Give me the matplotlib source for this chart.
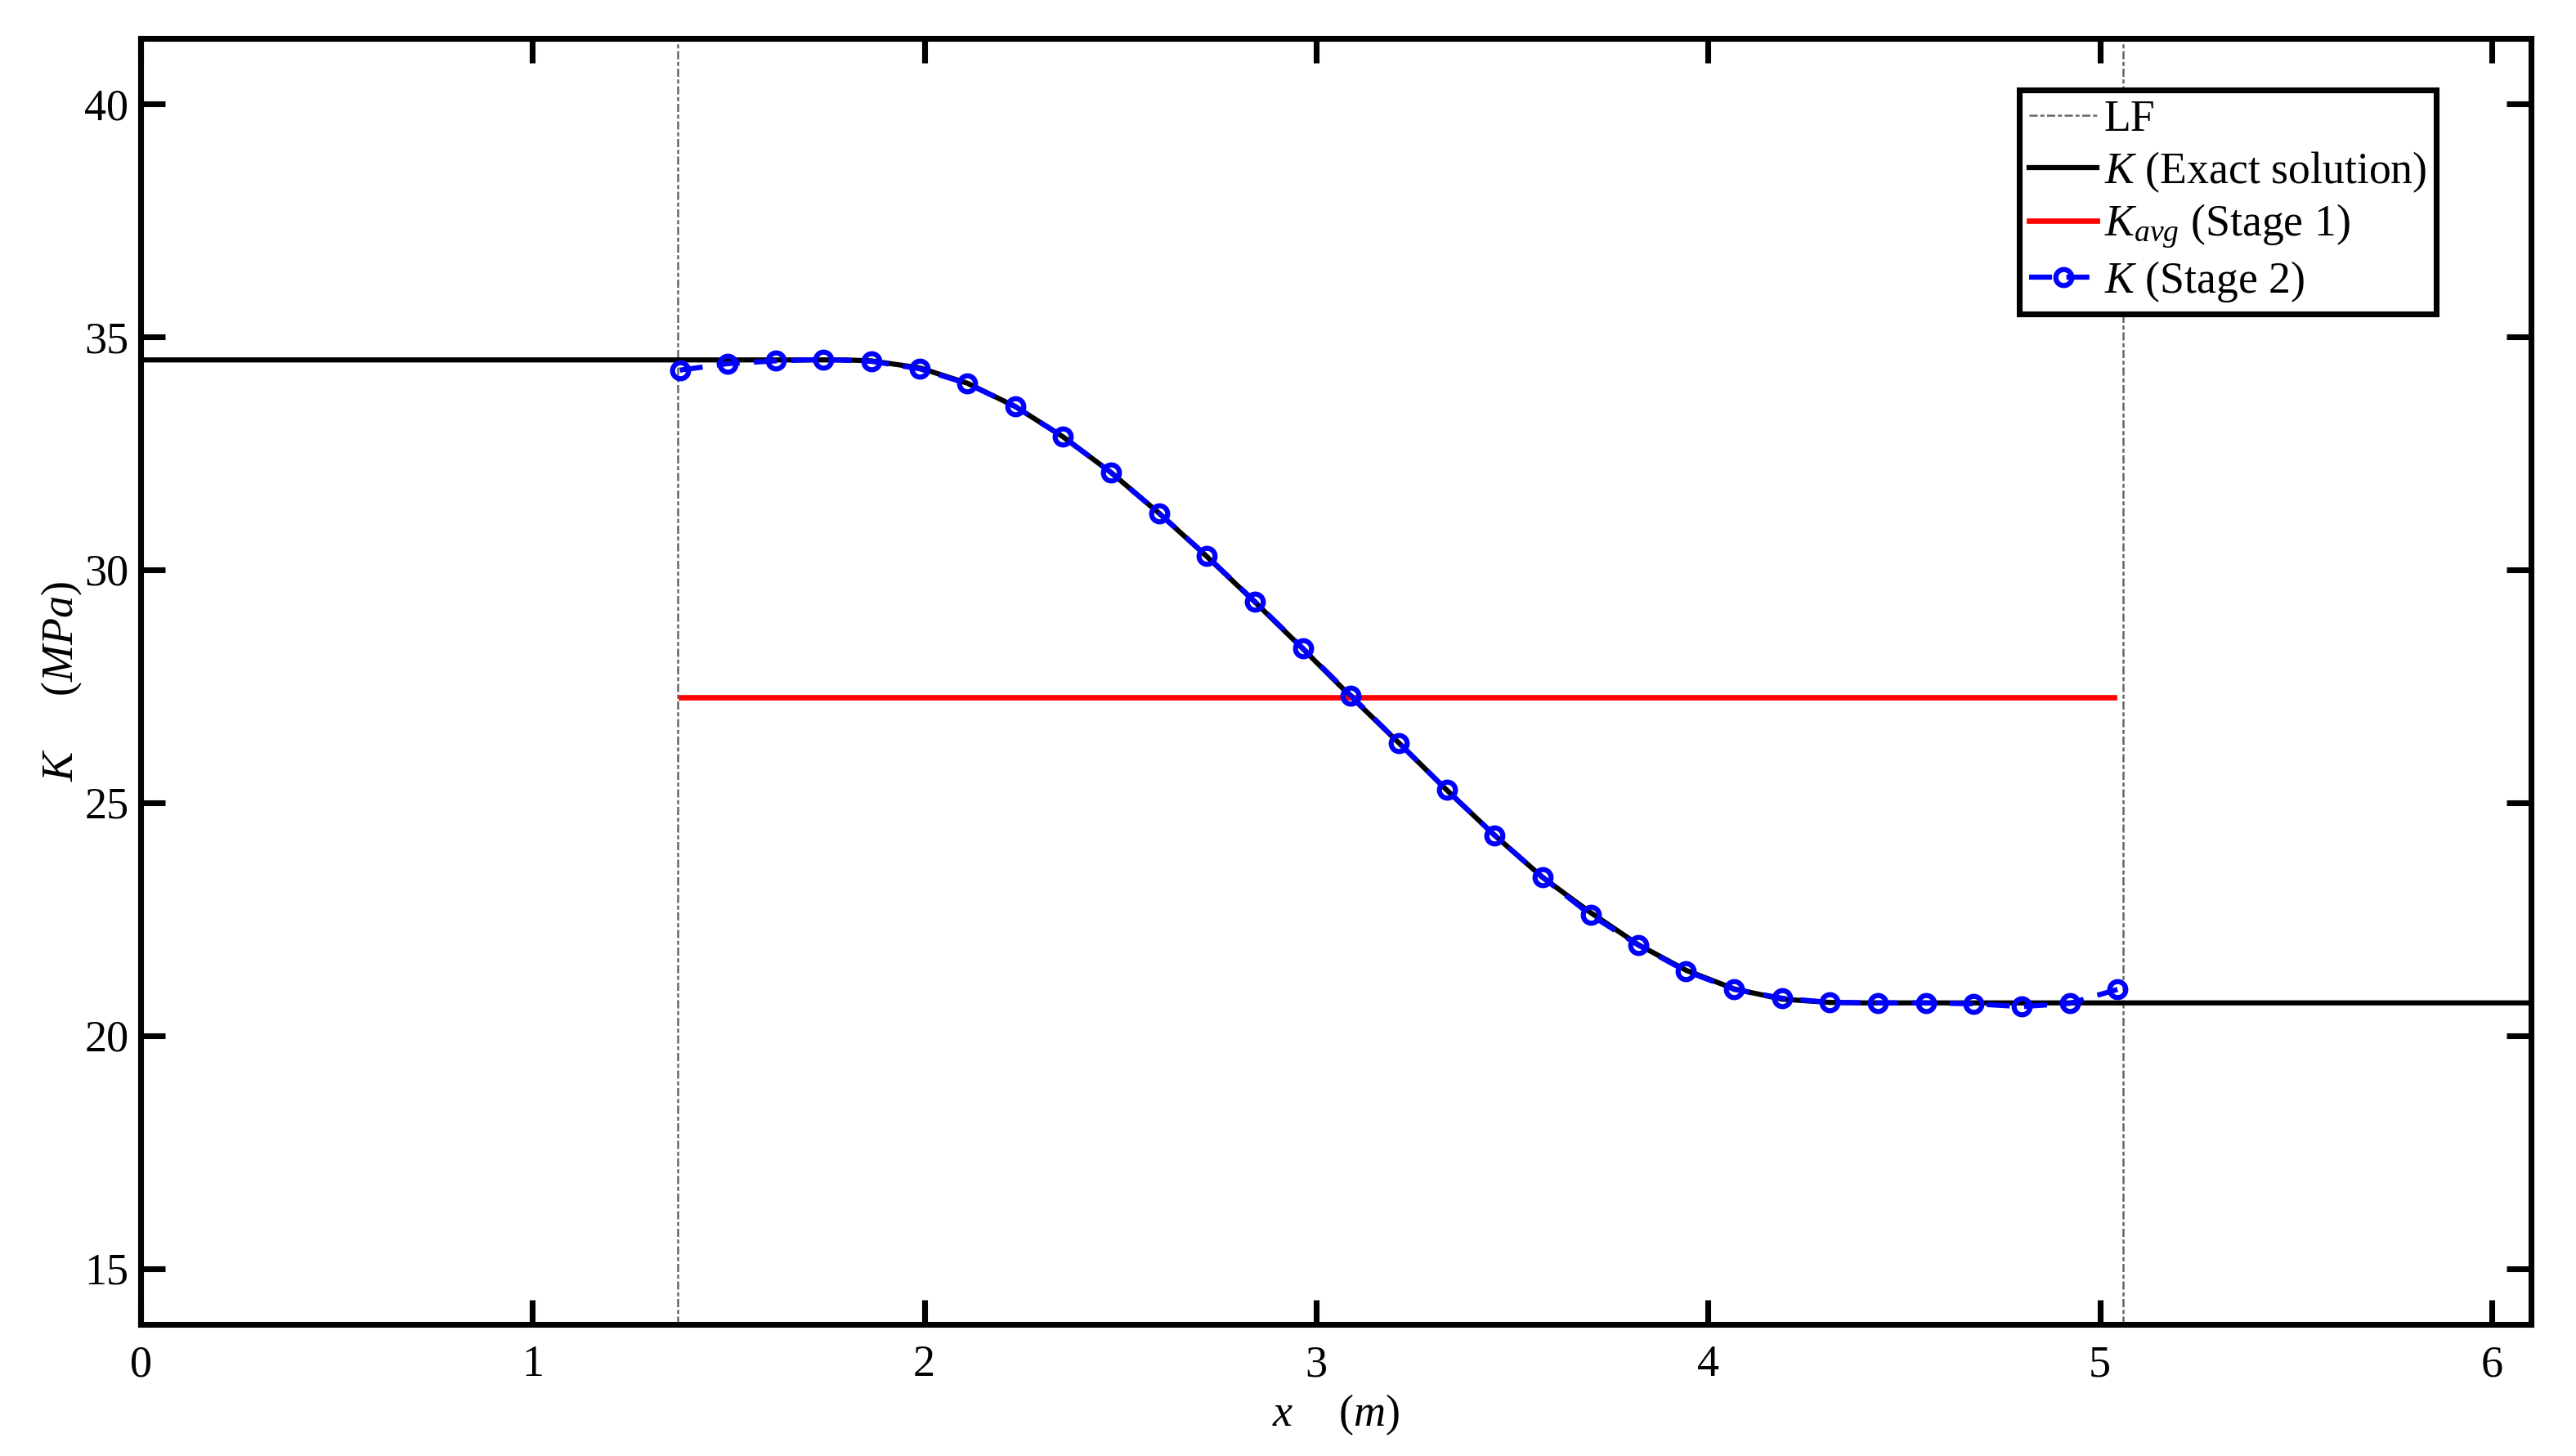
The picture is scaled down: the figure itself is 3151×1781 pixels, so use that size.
import matplotlib
matplotlib.use("Agg")
import matplotlib.pyplot as plt

plt.rcParams['font.family'] = ['Liberation Serif', 'DejaVu Serif']
plt.rcParams['mathtext.fontset'] = 'custom'
plt.rcParams['mathtext.rm'] = 'Liberation Serif'
plt.rcParams['mathtext.it'] = 'Liberation Serif:italic'
plt.rcParams['mathtext.bf'] = 'Liberation Serif:bold'

# ---- data ----
x_exact = [0.0, 1.80, 1.865, 1.988, 2.110, 2.232, 2.354, 2.477, 2.599, 2.721,
           2.844, 2.966, 3.088, 3.211, 3.333, 3.455, 3.577, 3.700, 3.822, 3.944,
           4.067, 4.189, 4.311, 4.40, 6.10]
k_exact = [34.50, 34.50, 34.48, 34.33, 34.00, 33.50, 32.85, 32.08, 31.21, 30.28,
           29.30, 28.30, 27.28, 26.28, 25.27, 24.30, 23.40, 22.64, 21.95, 21.40,
           21.00, 20.78, 20.71, 20.70, 20.70]

x_stage2 = [1.376, 1.498, 1.621, 1.743, 1.865, 1.988, 2.110, 2.232, 2.354, 2.477,
            2.599, 2.721, 2.844, 2.966, 3.088, 3.211, 3.333, 3.455, 3.577, 3.700,
            3.822, 3.944, 4.067, 4.189, 4.311, 4.434, 4.556, 4.678, 4.800, 4.923,
            5.045]
k_stage2 = [34.28, 34.42, 34.48, 34.51, 34.47, 34.31, 33.99, 33.50, 32.85, 32.08,
            31.21, 30.29, 29.31, 28.31, 27.30, 26.28, 25.27, 24.30, 23.40, 22.59,
            21.94, 21.38, 20.99, 20.80, 20.71, 20.70, 20.70, 20.68, 20.62, 20.69,
            20.99]

k_avg = 27.25
x_avg = [1.378, 5.036]
lf_bounds = [1.371, 5.060]

x_ticks = [0, 1, 2, 3, 4, 5, 6]
y_ticks = [15, 20, 25, 30, 35, 40]
x_lim = (0, 6.1)
y_lim = (13.8, 41.4)

# ---- figure ----
fig = plt.figure(figsize=(3151 / 300, 1781 / 300), dpi=300)
ax = fig.add_axes([0.0546, 0.0904, 0.9279, 0.8832])

lf_handle = None
for xv in lf_bounds:
    lf_handle = ax.axvline(xv, color='#666666', lw=0.6, dashes=(4, 1.3, 2, 1.3), zorder=1)

exact_line, = ax.plot(x_exact, k_exact, color='black', lw=1.5, zorder=2)
avg_line, = ax.plot(x_avg, [k_avg, k_avg], color='red', lw=1.6, zorder=2)
st2_line, = ax.plot(x_stage2, k_stage2, color='blue', lw=1.5, dashes=(4.5, 2.8),
                    marker='o', markersize=4.7, markerfacecolor='none',
                    markeredgecolor='blue', markeredgewidth=1.5, zorder=3)

ax.set_xlim(*x_lim)
ax.set_ylim(*y_lim)
ax.set_xticks(x_ticks)
ax.set_yticks(y_ticks)
ax.tick_params(direction='in', length=7.2, width=1.7, labelsize=13,
               top=True, right=True)
ax.tick_params(axis='x', pad=6)
ax.tick_params(axis='y', pad=3.5)
for s in ax.spines.values():
    s.set_linewidth(1.7)

ax.set_xlabel(r'$x\quad\;\,(m)$', fontsize=13, labelpad=2)
ax.set_ylabel(r'$K\quad\;\;\,(MPa)$', fontsize=13, labelpad=0)

leg = ax.legend([lf_handle, exact_line, avg_line, st2_line],
                ['LF', r'$K$ (Exact solution)', r'$K_{avg}$ (Stage 1)', r'$K$ (Stage 2)'],
                loc='upper right', bbox_to_anchor=(0.9603, 0.960), borderaxespad=0,
                fontsize=12.9, fancybox=False, framealpha=1, edgecolor='black',
                handlelength=1.55, handletextpad=0.15, labelspacing=0.2,
                borderpad=0.22)
leg.get_frame().set_linewidth(1.7)

fig.savefig('out.png', dpi=300)
